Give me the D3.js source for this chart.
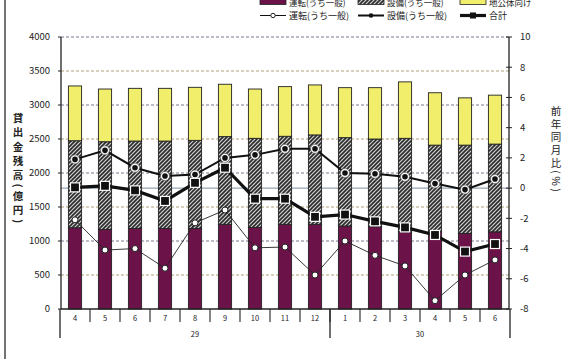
<!DOCTYPE html>
<html><head><meta charset="utf-8">
<script src="https://cdn.jsdelivr.net/npm/d3@7"></script>
<style>body{margin:0;background:#fff}svg{display:block}text{font-family:"Noto Sans CJK JP","DejaVu Sans",sans-serif}</style>
</head><body><div id="chart"></div>
<script>
const months = ["4","5","6","7","8","9","10","11","12","1","2","3","4","5","6"];
const years = [{label:"29", from:0, to:8}, {label:"30", from:9, to:14}];
const unten = [1195,1170,1185,1185,1185,1245,1200,1245,1245,1220,1210,1135,1135,1110,1135];
const setsubi = [1280,1290,1285,1285,1295,1290,1310,1295,1315,1300,1290,1375,1275,1300,1290];
const chikou = [805,775,775,775,780,770,725,730,735,735,755,830,770,695,720];
const untenYoY = [-2.1,-4.1,-4.0,-5.3,-2.3,-1.45,-3.95,-3.9,-5.75,-3.5,-4.45,-5.15,-7.45,-5.75,-4.75];
const setsubiYoY = [1.9,2.5,1.35,0.8,0.9,2.0,2.2,2.6,2.6,1.0,0.95,0.75,0.3,-0.1,0.6];
const totalYoY = [0.05,0.15,-0.15,-0.85,0.35,1.35,-0.7,-0.7,-1.9,-1.75,-2.2,-2.6,-3.1,-4.2,-3.7];
const leftTicks = [0,500,1000,1500,2000,2500,3000,3500,4000];
const rightTicks = [-8,-6,-4,-2,0,2,4,6,8,10];
const barNames = ["運転(うち一般)","設備(うち一般)","地公体向け"];
const lineNames = ["運転(うち一般)","設備(うち一般)","合計"];
const leftTitle = "貸出金残高(億円)";
const rightTitle = "前年同月比(%)";

const W=563,H=359;
const svg=d3.select("#chart").append("svg").attr("width",W).attr("height",H);
svg.append("rect").attr("width",W).attr("height",H).attr("fill","#fff");
const defs=svg.append("defs");
const pat=defs.append("pattern").attr("id","hatch").attr("patternUnits","userSpaceOnUse")
  .attr("width",4).attr("height",4);
pat.append("rect").attr("width",4).attr("height",4).attr("fill","#d0d0d0");
pat.append("path").attr("d","M-1,1 l2,-2 M0,4 l4,-4 M3,5 l2,-2").attr("stroke","#2a2a2a").attr("stroke-width",1.6);

const L=61,R=509,T=37,B=309;
const x=d3.scaleBand().domain(d3.range(months.length)).range([L-1,R+1]).paddingInner(0.56).paddingOuter(0.28);
const xb=d3.scaleBand().domain(d3.range(months.length)).range([L-1,R+1]);
const yL=d3.scaleLinear().domain([0,4000]).range([B,T]);
const yR=d3.scaleLinear().domain([-8,10]).range([B,T]);
const colors=["#6b1249","url(#hatch)","#f1ee6c"];

// scan border
svg.append("line").attr("x1",5).attr("x2",5).attr("y1",0).attr("y2",H).attr("stroke","#444").attr("stroke-width",1.5);

// gridlines
svg.append("g").selectAll("line").data(leftTicks.filter(d=>d>0)).join("line")
  .attr("x1",L).attr("x2",R).attr("y1",d=>yL(d)).attr("y2",d=>yL(d))
  .attr("stroke",(d,i)=>i%2?"#6f6a86":"#a8956a").attr("stroke-width",0.9).attr("stroke-dasharray","3,2");
svg.append("line").attr("x1",L).attr("x2",R).attr("y1",yR(0)).attr("y2",yR(0)).attr("stroke","#7d8ea0").attr("stroke-width",1);

// stacked bars
const stackData=months.map((m,i)=>({i,a:unten[i],b:setsubi[i],c:chikou[i]}));
const stack=d3.stack().keys(["a","b","c"])(stackData);
svg.append("g").selectAll("g").data(stack).join("g").attr("fill",(d,k)=>colors[k])
  .selectAll("rect").data(d=>d).join("rect")
  .attr("x",d=>x(d.data.i)).attr("width",x.bandwidth())
  .attr("y",d=>yL(d[1])).attr("height",d=>yL(d[0])-yL(d[1]))
  .attr("stroke","#222").attr("stroke-width",0.9);

// axes
const ax=svg.append("g").attr("stroke","#222").attr("fill","none");
ax.append("line").attr("x1",L).attr("x2",L).attr("y1",T).attr("y2",B).attr("stroke-width",1.3);
ax.append("line").attr("x1",R).attr("x2",R).attr("y1",T).attr("y2",B).attr("stroke-width",1.3);
ax.append("line").attr("x1",L).attr("x2",R).attr("y1",B).attr("y2",B).attr("stroke-width",1.3);
ax.selectAll(".lt").data(leftTicks).join("line").attr("x1",L-3).attr("x2",L).attr("y1",d=>yL(d)).attr("y2",d=>yL(d));
ax.selectAll(".rt").data(rightTicks).join("line").attr("x1",R-3).attr("x2",R+3).attr("y1",d=>yR(d)).attr("y2",d=>yR(d));
const seps=d3.range(1,months.length);
ax.selectAll(".sep").data(seps).join("line").attr("x1",d=>xb(d)).attr("x2",d=>xb(d)).attr("y1",B).attr("y2",B+13).attr("stroke-width",1.1);
const ybounds=[0,9,15];
ax.selectAll(".ysep").data(ybounds).join("line")
  .attr("x1",d=>d<15?xb(d):xb(14)+xb.bandwidth()).attr("x2",d=>d<15?xb(d):xb(14)+xb.bandwidth())
  .attr("y1",B).attr("y2",B+29).attr("stroke-width",1.3);

// tick labels
svg.append("g").selectAll("text").data(leftTicks).join("text")
  .attr("x",L-11).attr("y",d=>yL(d)).attr("dy","0.35em").attr("text-anchor","end")
  .attr("font-size",9.5).attr("fill","#222").text(d=>d);
svg.append("g").selectAll("text").data(rightTicks).join("text")
  .attr("x",R+11).attr("y",d=>yR(d)).attr("dy","0.35em").attr("text-anchor","start")
  .attr("font-size",9.5).attr("fill","#222").text(d=>d);
svg.append("g").selectAll("text").data(months).join("text")
  .attr("x",(d,i)=>xb(i)+xb.bandwidth()/2).attr("y",B+9).attr("dy","0.35em").attr("text-anchor","middle")
  .attr("font-size",7.5).attr("fill","#222").text(d=>d);
svg.append("g").selectAll("text").data(years).join("text")
  .attr("x",d=>(xb(d.from)+xb(d.to)+xb.bandwidth())/2).attr("y",B+25).attr("dy","0.35em").attr("text-anchor","middle")
  .attr("font-size",7.5).attr("fill","#222").text(d=>d.label);

// axis titles (vertical writing)
svg.append("text").attr("x",18).attr("y",170).attr("text-anchor","middle")
  .style("writing-mode","vertical-rl").attr("letter-spacing",3.6)
  .attr("font-size",10.5).attr("font-weight","bold").attr("fill","#222").text(leftTitle);
svg.append("text").attr("x",556).attr("y",150).attr("text-anchor","middle")
  .style("writing-mode","vertical-rl").attr("letter-spacing",2.4)
  .attr("font-size",10.5).attr("fill","#222").text(rightTitle);

// lines
const cx=i=>xb(i)+xb.bandwidth()/2;
const line=d3.line().x((d,i)=>cx(i)).y(d=>yR(d));
svg.append("path").datum(untenYoY).attr("d",line).attr("fill","none").attr("stroke","#222").attr("stroke-width",0.9);
svg.append("path").datum(setsubiYoY).attr("d",line).attr("fill","none").attr("stroke","#111").attr("stroke-width",2);
svg.append("path").datum(totalYoY).attr("d",line).attr("fill","none").attr("stroke","#111").attr("stroke-width",3.2);
svg.append("g").selectAll("circle").data(untenYoY).join("circle")
  .attr("cx",(d,i)=>cx(i)).attr("cy",d=>yR(d)).attr("r",3).attr("fill","#fff").attr("stroke","#222").attr("stroke-width",1);
const sg=svg.append("g").selectAll("g").data(setsubiYoY).join("g");
sg.append("circle").attr("cx",(d,i)=>cx(i)).attr("cy",d=>yR(d)).attr("r",4.5).attr("fill","#fff").attr("stroke","#555").attr("stroke-width",0.6);
sg.append("circle").attr("cx",(d,i)=>cx(i)).attr("cy",d=>yR(d)).attr("r",2.8).attr("fill","#111");
svg.append("g").selectAll("rect").data(totalYoY).join("rect")
  .attr("x",(d,i)=>cx(i)-4.5).attr("y",d=>yR(d)-4.5).attr("width",9).attr("height",9)
  .attr("fill","#111").attr("stroke","#fff").attr("stroke-width",1.2);

// legend
const lgX=[260,358,460];
const lg1=svg.append("g");
lg1.selectAll("rect").data(barNames).join("rect").attr("x",(d,i)=>lgX[i]).attr("y",-4).attr("width",26).attr("height",8.5)
  .attr("fill",(d,i)=>colors[i]).attr("stroke","#222").attr("stroke-width",0.8);
lg1.selectAll("text").data(barNames).join("text").attr("x",(d,i)=>lgX[i]+29).attr("y",5.5)
  .attr("font-size",8.5).attr("fill","#222").text(d=>d);
const lg2=svg.append("g");
const lw=[1,2,3.2];
lg2.selectAll("line").data(lineNames).join("line").attr("x1",(d,i)=>lgX[i]).attr("x2",(d,i)=>lgX[i]+26)
  .attr("y1",15.5).attr("y2",15.5).attr("stroke","#111").attr("stroke-width",(d,i)=>lw[i]);
lg2.append("circle").attr("cx",lgX[0]+13).attr("cy",15.5).attr("r",2.2).attr("fill","#fff").attr("stroke","#222");
lg2.append("circle").attr("cx",lgX[1]+13).attr("cy",15.5).attr("r",2.3).attr("fill","#111");
lg2.append("rect").attr("x",lgX[2]+10).attr("y",12.5).attr("width",6).attr("height",6).attr("fill","#111");
lg2.selectAll("text").data(lineNames).join("text").attr("x",(d,i)=>lgX[i]+29).attr("y",15.5).attr("dy","0.35em")
  .attr("font-size",9).attr("fill","#222").text(d=>d);
</script></body></html>
